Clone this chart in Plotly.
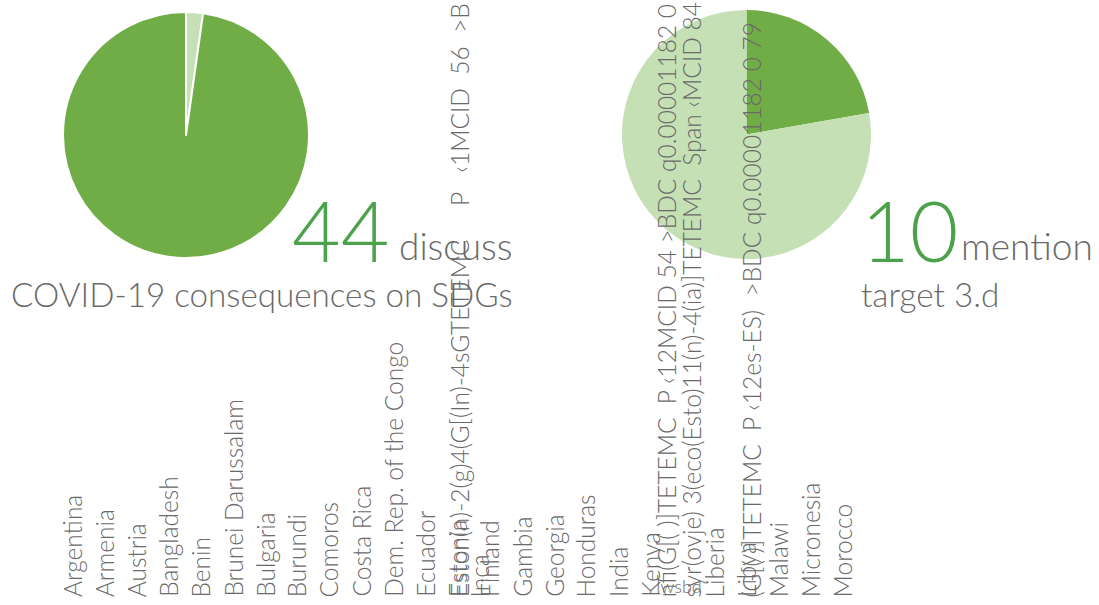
import plotly.graph_objects as go

# ---------------- data ----------------
pie1_labels = ["Do not discuss", "Discuss COVID-19 consequences on SDGs"]
pie1_values = [1, 44]
pie2_labels = ["Mention target 3.d", "Do not mention"]
pie2_values = [10, 35]

big_numbers = ["44", "10"]
verbs = ["discuss", "mention"]
subtitles = ["COVID-19 consequences on SDGs", "target 3.d"]

countries = ["Argentina", "Armenia", "Austria", "Bangladesh", "Benin",
             "Brunei Darussalam", "Bulgaria", "Burundi", "Comoros", "Costa Rica",
             "Dem. Rep. of the Congo", "Ecuador", "Estonia", "Finland", "Gambia",
             "Georgia", "Honduras", "India", "Kenya", "Liberia", "Libya",
             "Malawi", "Micronesia", "Morocco"]
country_pos = [0, 1, 2, 3, 4, 5, 6, 7, 8, 9, 10, 11, 12, 13, 14, 15, 16, 17,
               18, 20, 21, 22, 23, 24]

NB = "\u00a0"
# stray extraction text that overlaps the list
stray_texts = ["Eston(n)-2(g)4(G[(In)-4sGTETEMC" + NB * 5 + "P" + NB * 3 + "‹1MCID" + NB * 2 + "56" + NB * 2 + ">B",
               "Inca",
               "nfi(G[(" + NB + ")]TETEMC" + NB * 2 + "P" + NB + "‹12MCID" + NB + "54" + NB + ">BDC" + NB + "q0.00001182 0 79",
               "syr(ovje) 3(eco(Esto)11(n)-4(ia)]TETEMC" + NB * 2 + "Span" + NB + "‹MCID 84",
               "(G[(" + NB + ")]TETEMC" + NB * 2 + "P" + NB + "‹12es-ES)" + NB * 2 + ">BDC" + NB + "q0.00001182" + NB + "0" + NB + "79"]
stray_pos = [12.05, 12.7, 18.5, 19.3, 21.17]

# ---------------- style / layout ----------------
W, H = 1099, 605
DARK = "#70AD47"
LIGHT = "#C5E0B4"
NUM = "#4CA24A"
GRAY = "#6a6a6a"
FONT = "Lato"
WT = 300
DESC = 0.213  # font descent (em)

def px(x):
    return x / W

def py(y):
    return (H - y) / H

def base(y, size):
    # paper y of the bottom of an annotation box whose baseline sits at pixel y
    return py(y + DESC * size + 2)

fig = go.Figure()
fig.add_trace(go.Pie(labels=pie1_labels, values=pie1_values, sort=False,
                     direction="clockwise", rotation=0, textinfo="none",
                     hoverinfo="label+value",
                     marker=dict(colors=[LIGHT, DARK], line=dict(color="white", width=2)),
                     domain=dict(x=[px(63), px(309)], y=[py(258), py(12)]),
                     showlegend=False))
fig.add_trace(go.Pie(labels=pie2_labels, values=pie2_values, sort=False,
                     direction="clockwise", rotation=0, textinfo="none",
                     hoverinfo="label+value",
                     marker=dict(colors=[DARK, LIGHT], line=dict(width=0)),
                     domain=dict(x=[px(622), px(871)], y=[py(259), py(10)]),
                     showlegend=False))

# invisible linear axis carrying the list positions
step = 32.12
x0px = 72
fig.update_layout(
    xaxis=dict(range=[-x0px / step, (W - x0px) / step], visible=False, domain=[0, 1],
               fixedrange=True),
    yaxis=dict(range=[0, 1], visible=False, domain=[0, 1], fixedrange=True),
)

def f(size, color=GRAY):
    return dict(size=size, color=color, family=FONT, weight=WT)

NUMSZ, VSZ, SSZ = 84, 37, 33.2
ann = []
ann.append(dict(text=big_numbers[0], x=px(391), y=base(262, NUMSZ), xanchor="right", yanchor="bottom", font=f(NUMSZ, NUM)))
ann.append(dict(text=verbs[0], x=px(515), y=base(260, VSZ), xanchor="right", yanchor="bottom", font=f(VSZ)))
ann.append(dict(text=subtitles[0], x=px(515), y=base(307, SSZ), xanchor="right", yanchor="bottom", font=f(SSZ)))
ann.append(dict(text=big_numbers[1], x=px(859), y=base(262, NUMSZ), xanchor="left", yanchor="bottom", font=f(NUMSZ, NUM)))
ann.append(dict(text=verbs[1], x=px(959), y=base(260, VSZ), xanchor="left", yanchor="bottom", font=f(VSZ)))
ann.append(dict(text=subtitles[1], x=px(859), y=base(307, SSZ), xanchor="left", yanchor="bottom", font=f(SSZ)))
for a in ann:
    a.update(xref="paper", yref="paper", showarrow=False)

for name, pos in zip(countries, country_pos):
    ann.append(dict(text=name, x=pos, y=py(599), xref="x", yref="paper", xanchor="center",
                    yanchor="bottom", textangle=-90, showarrow=False, font=f(24.5)))
for name, pos in zip(stray_texts, stray_pos):
    ann.append(dict(text=name, x=pos, y=py(599), xref="x", yref="paper", xanchor="center",
                    yanchor="bottom", textangle=-90, showarrow=False, font=f(24.5)))
ann.append(dict(text="Iwsbd", x=18.9, y=py(599), xref="x", yref="paper", xanchor="center",
                yanchor="bottom", showarrow=False, font=f(18)))

fig.update_layout(
    width=W, height=H, autosize=False,
    margin=dict(l=0, r=0, t=0, b=0, pad=0),
    paper_bgcolor="white", plot_bgcolor="white",
    font=dict(family=FONT, color=GRAY),
    annotations=ann,
    showlegend=False,
)

fig.write_html("out.html", config={"displayModeBar": False},
               post_script="document.body.style.margin='0';document.body.style.padding='0';")
